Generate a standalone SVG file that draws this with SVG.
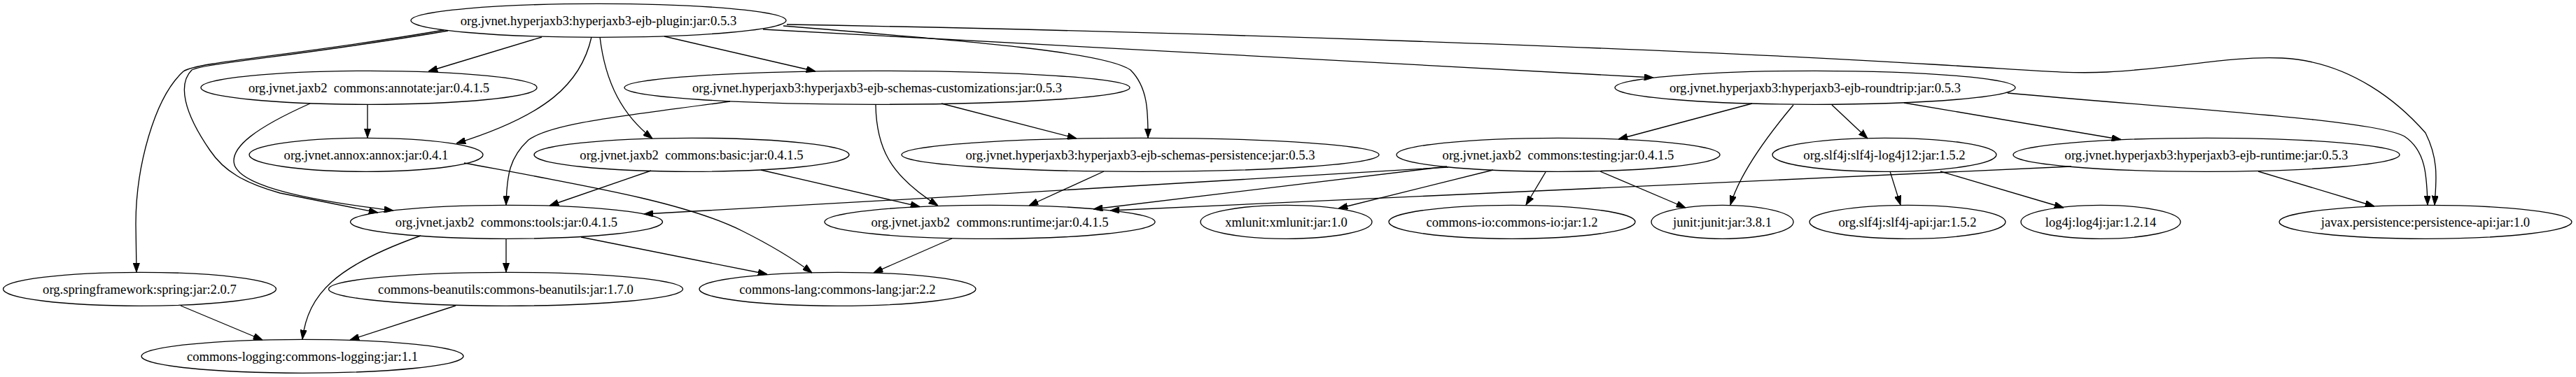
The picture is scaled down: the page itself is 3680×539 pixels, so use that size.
<svg xmlns="http://www.w3.org/2000/svg" width="3680" height="539" viewBox="0 0 3680 539">
<style>
.n ellipse{fill:none;stroke:#000;stroke-width:1.33}
.n text{font-family:"Liberation Serif","Times New Roman",serif;font-size:18.67px;text-anchor:middle;fill:#000}
#edges path{fill:none;stroke:#000;stroke-width:1.33;marker-end:url(#arr)}
</style>
<defs>
<marker id="arr" markerUnits="userSpaceOnUse" viewBox="0 0 13.3 9.4" markerWidth="13.3" markerHeight="9.4" refX="13.3" refY="4.7" orient="auto">
<path d="M0,0 L13.3,4.7 L0,9.4 z" fill="#000" stroke="#000" stroke-width="1"/>
</marker>
</defs>
<rect width="3680" height="539" fill="#fff"/>
<g id="edges">
<path d="M774,53 L612,102"/>
<path d="M845,53 C830,120 780,165 652,205"/>
<path d="M634,43 C420,80 282,88 262,102 C220,140 194,240 194,320 L195,389"/>
<path d="M640,44 C430,80 292,90 274,100 C254,120 262,160 300,215 C320,245 350,262 400,276 L540,304"/>
<path d="M443,148 C360,185 334,210 334,230 C334,262 420,284 562,301"/>
<path d="M857,53 C865,120 890,165 932,198"/>
<path d="M949,52 L1165,102"/>
<path d="M1119,37 C1400,60 1580,75 1615,100 C1640,125 1640,160 1640,197"/>
<path d="M1090,42 L2362,111"/>
<path d="M1124,35 C1700,45 2400,70 2760,92 C2900,100 2950,106 3010,103 C3120,97 3180,80 3260,83 C3360,88 3430,150 3465,190 C3485,230 3480,260 3478,293"/>
<path d="M2868,133 C3100,155 3390,170 3435,195 C3465,215 3467,250 3468,293"/>
<path d="M3226,245 L3392,295"/>
<path d="M2959,238 C2800,248 2300,268 1586,301"/>
<path d="M2067,238 L1562,299"/>
<path d="M2069,239 C1700,262 1300,285 920,306"/>
<path d="M2133,243 L1912,298"/>
<path d="M2208,246 L2180,293"/>
<path d="M2286,245 L2408,297"/>
<path d="M2503,148 L2312,199"/>
<path d="M2562,150 C2520,200 2485,250 2472,293"/>
<path d="M2617,150 L2668,198"/>
<path d="M2720,147 L3030,199.5"/>
<path d="M2700,245 L2715,293"/>
<path d="M2772,245 L2948,297"/>
<path d="M525,149 L525,197"/>
<path d="M663,233 C850,268 980,290 1060,330 C1110,355 1140,375 1160,390"/>
<path d="M930,244 L785,294"/>
<path d="M1087,243 L1314,295.5"/>
<path d="M1043,145 C900,165 790,175 755,200 C728,225 724,250 723,293"/>
<path d="M1251,150 C1252,210 1270,250 1340,294"/>
<path d="M1345,148 L1538,198"/>
<path d="M1577,245 L1470,294"/>
<path d="M830,339 L1096,392"/>
<path d="M723,341 L723,389"/>
<path d="M601,337 C480,380 440,420 432,485"/>
<path d="M258,437 L375,486"/>
<path d="M651,437 L500,486"/>
<path d="M1360,341 L1248,390"/>
</g>
<g id="n_plugin" class="n"><ellipse cx="855" cy="29.3" rx="268" ry="24"/><text x="855" y="35.5">org.jvnet.hyperjaxb3:hyperjaxb3-ejb-plugin:jar:0.5.3</text></g>
<g id="n_annotate" class="n"><ellipse cx="527" cy="125.3" rx="240" ry="24"/><text x="527" y="131.5" xml:space="preserve">org.jvnet.jaxb2  commons:annotate:jar:0.4.1.5</text></g>
<g id="n_customizations" class="n"><ellipse cx="1253" cy="125.3" rx="361" ry="24"/><text x="1253" y="131.5">org.jvnet.hyperjaxb3:hyperjaxb3-ejb-schemas-customizations:jar:0.5.3</text></g>
<g id="n_roundtrip" class="n"><ellipse cx="2593" cy="125.3" rx="286" ry="24"/><text x="2593" y="131.5">org.jvnet.hyperjaxb3:hyperjaxb3-ejb-roundtrip:jar:0.5.3</text></g>
<g id="n_annox" class="n"><ellipse cx="523" cy="221.3" rx="167" ry="24"/><text x="523" y="227.5">org.jvnet.annox:annox:jar:0.4.1</text></g>
<g id="n_basic" class="n"><ellipse cx="988" cy="221.3" rx="225" ry="24"/><text x="988" y="227.5" xml:space="preserve">org.jvnet.jaxb2  commons:basic:jar:0.4.1.5</text></g>
<g id="n_persistence" class="n"><ellipse cx="1629" cy="221.3" rx="341" ry="24"/><text x="1629" y="227.5">org.jvnet.hyperjaxb3:hyperjaxb3-ejb-schemas-persistence:jar:0.5.3</text></g>
<g id="n_testing" class="n"><ellipse cx="2226" cy="221.3" rx="231" ry="24"/><text x="2226" y="227.5" xml:space="preserve">org.jvnet.jaxb2  commons:testing:jar:0.4.1.5</text></g>
<g id="n_log4j12" class="n"><ellipse cx="2692" cy="221.3" rx="160" ry="24"/><text x="2692" y="227.5">org.slf4j:slf4j-log4j12:jar:1.5.2</text></g>
<g id="n_hjruntime" class="n"><ellipse cx="3152" cy="221.3" rx="276" ry="24"/><text x="3152" y="227.5">org.jvnet.hyperjaxb3:hyperjaxb3-ejb-runtime:jar:0.5.3</text></g>
<g id="n_tools" class="n"><ellipse cx="723.5" cy="317.3" rx="223" ry="24"/><text x="723.5" y="323.5" xml:space="preserve">org.jvnet.jaxb2  commons:tools:jar:0.4.1.5</text></g>
<g id="n_runtime" class="n"><ellipse cx="1414" cy="317.3" rx="236" ry="24"/><text x="1414" y="323.5" xml:space="preserve">org.jvnet.jaxb2  commons:runtime:jar:0.4.1.5</text></g>
<g id="n_xmlunit" class="n"><ellipse cx="1837.5" cy="317.3" rx="122.5" ry="24"/><text x="1837.5" y="323.5">xmlunit:xmlunit:jar:1.0</text></g>
<g id="n_io" class="n"><ellipse cx="2160" cy="317.3" rx="176" ry="24"/><text x="2160" y="323.5">commons-io:commons-io:jar:1.2</text></g>
<g id="n_junit" class="n"><ellipse cx="2460.5" cy="317.3" rx="101.5" ry="24"/><text x="2460.5" y="323.5">junit:junit:jar:3.8.1</text></g>
<g id="n_slf4japi" class="n"><ellipse cx="2725" cy="317.3" rx="140" ry="24"/><text x="2725" y="323.5">org.slf4j:slf4j-api:jar:1.5.2</text></g>
<g id="n_log4j" class="n"><ellipse cx="3001" cy="317.3" rx="114" ry="24"/><text x="3001" y="323.5">log4j:log4j:jar:1.2.14</text></g>
<g id="n_papi" class="n"><ellipse cx="3465" cy="317.3" rx="209" ry="24"/><text x="3465" y="323.5">javax.persistence:persistence-api:jar:1.0</text></g>
<g id="n_spring" class="n"><ellipse cx="199.5" cy="413.3" rx="195" ry="24"/><text x="199.5" y="419.5">org.springframework:spring:jar:2.0.7</text></g>
<g id="n_beanutils" class="n"><ellipse cx="722.5" cy="413.3" rx="253" ry="24"/><text x="722.5" y="419.5">commons-beanutils:commons-beanutils:jar:1.7.0</text></g>
<g id="n_lang" class="n"><ellipse cx="1196.5" cy="413.3" rx="197.5" ry="24"/><text x="1196.5" y="419.5">commons-lang:commons-lang:jar:2.2</text></g>
<g id="n_logging" class="n"><ellipse cx="432" cy="509.3" rx="230" ry="24"/><text x="432" y="515.5">commons-logging:commons-logging:jar:1.1</text></g>
</svg>
